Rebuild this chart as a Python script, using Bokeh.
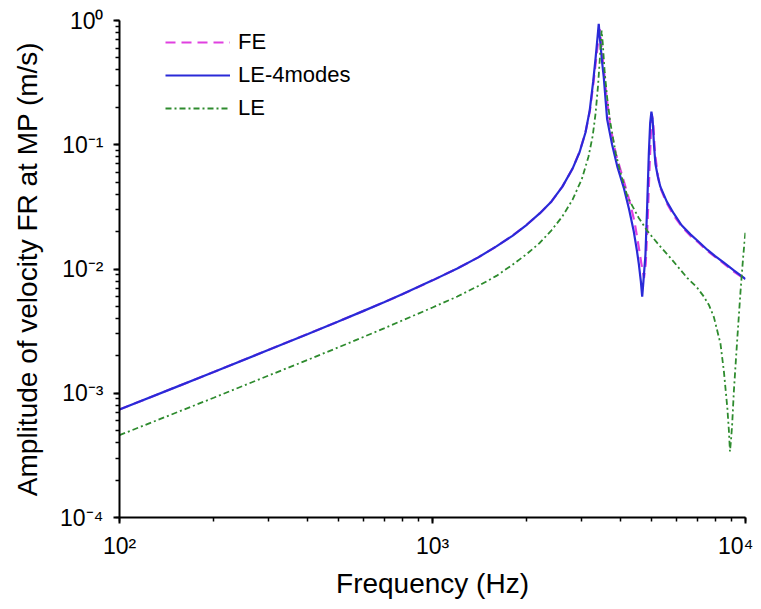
from bokeh.plotting import figure
from bokeh.models import ColumnDataSource, Legend, LegendItem, CustomJSTickFormatter, LogTicker
from bokeh.embed import file_html
from bokeh.resources import INLINE

# ---- data ----
fe_freq = [100, 150, 200, 300, 400, 500, 600, 700, 800, 1000, 1200, 1400, 1600, 1800, 2000,
           2200, 2400, 2600, 2800, 2950, 3080, 3180, 3260, 3330, 3390, 3425, 3460, 3520, 3600,
           3700, 3850, 4050, 4250, 4420, 4560, 4650, 4740, 4800, 4870, 4930, 4990, 5030, 5080,
           5140, 5250, 5345, 5600, 5899, 6250, 6670, 7100, 7547, 8000, 8510, 9200, 10000]
fe_amp = [7.4e-4, 1.11e-3, 1.48e-3, 2.24e-3, 3.0e-3, 3.78e-3, 4.58e-3, 5.4e-3, 6.25e-3, 8.1e-3,
          1.01e-2, 1.24e-2, 1.52e-2, 1.85e-2, 2.27e-2, 2.8e-2, 3.5e-2, 4.6e-2, 6.4e-2, 8.8e-2,
          0.125, 0.185, 0.30, 0.48, 0.72, 0.85, 0.65, 0.42, 0.24, 0.14, 0.085, 0.055, 0.036,
          0.024, 0.015, 0.011, 0.0085, 0.011, 0.025, 0.06, 0.13, 0.17, 0.14, 0.085, 0.056, 0.045,
          0.034, 0.027, 0.022, 0.0185, 0.0162, 0.014, 0.0125, 0.0111, 0.0095, 0.0082]

le4_freq = [100, 150, 200, 300, 400, 500, 600, 700, 800, 1000, 1200, 1400, 1600, 1800, 2000,
            2200, 2400, 2600, 2800, 2950, 3080, 3180, 3260, 3320, 3370, 3397, 3430, 3480, 3525,
            3614, 3749, 3900, 4085, 4250, 4396, 4500, 4562, 4630, 4677, 4720, 4790, 4853, 4911,
            4960, 5005, 5050, 5100, 5155, 5250, 5345, 5600, 5899, 6250, 6670, 7100, 7547, 8000,
            8510, 9200, 10000]
le4_amp = [7.4e-4, 1.11e-3, 1.48e-3, 2.24e-3, 3.0e-3, 3.78e-3, 4.58e-3, 5.4e-3, 6.25e-3, 8.1e-3,
           1.01e-2, 1.24e-2, 1.52e-2, 1.85e-2, 2.27e-2, 2.8e-2, 3.5e-2, 4.6e-2, 6.4e-2, 8.7e-2,
           0.125, 0.19, 0.32, 0.5, 0.75, 0.94, 0.7, 0.47, 0.35, 0.16, 0.10, 0.066, 0.045, 0.030,
           0.020, 0.014, 0.011, 0.008, 0.006, 0.008, 0.013, 0.033, 0.085, 0.15, 0.185, 0.16, 0.10,
           0.07, 0.055, 0.046, 0.035, 0.028, 0.0225, 0.019, 0.0165, 0.0143, 0.0127, 0.0113,
           0.0097, 0.0083]

le_freq = [100, 150, 200, 300, 400, 500, 600, 700, 800, 1000, 1200, 1400, 1600, 1800, 2000,
           2200, 2400, 2600, 2800, 3000, 3150, 3250, 3320, 3380, 3430, 3470, 3500, 3550, 3614,
           3700, 3850, 4000, 4200, 4550, 4853, 5300, 5754, 6510, 7000, 7360, 7650, 7925, 8320,
           8530, 8750, 8850, 8920, 8990, 9065, 9180, 9400, 9640, 9825, 10000]
le_amp = [4.6e-4, 6.9e-4, 9.2e-4, 1.39e-3, 1.86e-3, 2.34e-3, 2.83e-3, 3.33e-3, 3.85e-3, 4.9e-3,
          6.0e-3, 7.3e-3, 8.8e-3, 1.08e-2, 1.32e-2, 1.62e-2, 2.05e-2, 2.65e-2, 3.6e-2, 5.3e-2,
          8.0e-2, 0.118, 0.18, 0.30, 0.52, 0.83, 0.65, 0.38, 0.24, 0.15, 0.085, 0.058, 0.038,
          0.026, 0.0203, 0.0155, 0.0123, 0.0085, 0.0071, 0.0060, 0.0051, 0.0041, 0.0025,
          0.0015, 7.6e-4, 5.0e-4, 3.4e-4, 4.2e-4, 5.6e-4, 1.04e-3, 2.6e-3, 6.6e-3, 0.0123, 0.0203]

series_names = ["FE", "LE-4modes", "LE"]

FONT = "Liberation Sans"

p = figure(width=753, height=601, x_axis_type="log", y_axis_type="log",
           x_range=(100, 10000), y_range=(1e-4, 1.0),
           output_backend="svg", toolbar_location=None,
           min_border_left=119, min_border_right=8, min_border_top=20, min_border_bottom=84)
p.outline_line_color = None
p.xgrid.visible = False
p.ygrid.visible = False
p.background_fill_color = "white"
p.border_fill_color = "white"

fmt = CustomJSTickFormatter(code="""
const e = Math.round(Math.log10(tick));
const sup = {"-":"\u207b","0":"\u2070","1":"\u00b9","2":"\u00b2","3":"\u00b3","4":"\u2074",
             "5":"\u2075","6":"\u2076","7":"\u2077","8":"\u2078","9":"\u2079"};
return "10" + String(e).split("").map(c => sup[c]).join("");
""")

for ax in (p.xaxis[0], p.yaxis[0]):
    ax.ticker = LogTicker(num_minor_ticks=10, desired_num_ticks=5)
    ax.formatter = fmt
    ax.axis_line_width = 2
    ax.axis_line_color = "black"
    ax.major_tick_line_width = 2
    ax.minor_tick_line_width = 1.5
    ax.major_tick_in = 0
    ax.major_tick_out = 6
    ax.minor_tick_in = 0
    ax.minor_tick_out = 4
    ax.major_label_text_font = FONT
    ax.major_label_text_font_size = "23px"
    ax.major_label_text_color = "black"
    ax.axis_label_text_font = FONT
    ax.axis_label_text_font_size = "28px"
    ax.axis_label_text_font_style = "normal"
    ax.axis_label_text_color = "black"

p.xaxis.axis_label = "Frequency (Hz)"
p.yaxis.axis_label = "Amplitude of velocity FR at MP (m/s)"
p.xaxis.major_label_standoff = 9
p.yaxis.major_label_standoff = 10
p.xaxis.axis_label_standoff = 6
p.yaxis.axis_label_standoff = 14

src_fe = ColumnDataSource(dict(f=fe_freq, a=fe_amp))
src_le4 = ColumnDataSource(dict(f=le4_freq, a=le4_amp))
src_le = ColumnDataSource(dict(f=le_freq, a=le_amp))

r_fe = p.line("f", "a", source=src_fe, line_color="#e040e0", line_width=2.2, line_dash="10 6")
r_le4 = p.line("f", "a", source=src_le4, line_color="#2a2ad8", line_width=2.2)
r_le = p.line("f", "a", source=src_le, line_color="#2e8b2e", line_width=1.8, line_dash="6 3 2 3")

legend = Legend(items=[LegendItem(label=series_names[0], renderers=[r_fe]),
                       LegendItem(label=series_names[1], renderers=[r_le4]),
                       LegendItem(label=series_names[2], renderers=[r_le])],
                location=(46, 396), orientation="vertical")
legend.border_line_color = None
legend.background_fill_alpha = 0
legend.margin = 0
legend.padding = 0
legend.spacing = 7
legend.glyph_width = 65
legend.glyph_height = 20
legend.label_height = 20
legend.label_standoff = 8
legend.label_text_font = FONT
legend.label_text_font_size = "22px"
legend.label_text_color = "black"
p.add_layout(legend, "center")

open("out.html", "w").write(file_html(p, INLINE))
